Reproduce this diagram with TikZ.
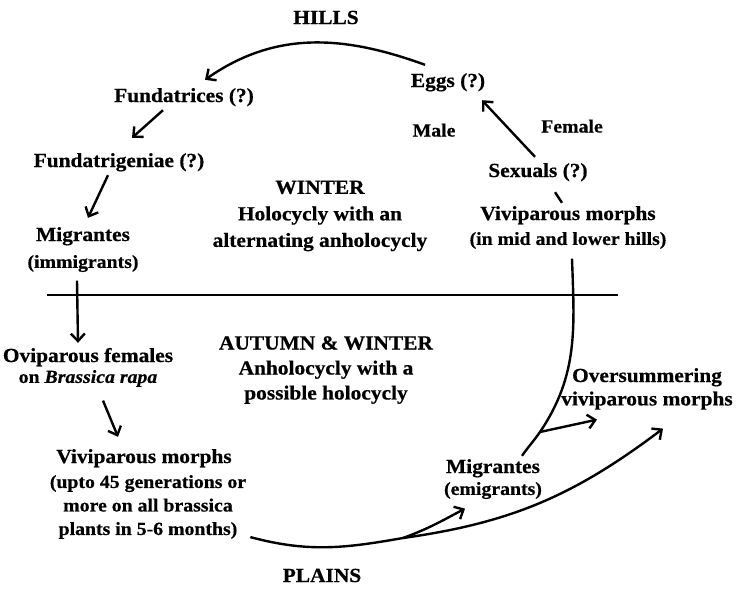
\documentclass[tikz,border=0pt]{standalone}
\usepackage{fontspec}
\setmainfont{Liberation Serif}[FakeStretch=1.07, BoldFeatures={FakeBold=0.6}, BoldItalicFeatures={FakeBold=0.6}]
\usetikzlibrary{positioning,arrows.meta}

\begin{document}
\begin{tikzpicture}[
    x=1pt, y=1pt,
    stagenode/.style={font=\bfseries\fontsize{20}{22}\selectfont, inner sep=1pt, text height=14pt, text depth=4pt},
    notenode/.style={font=\bfseries\fontsize{18.5}{20}\selectfont, inner sep=1pt, text height=13pt, text depth=4pt},
    seasonnode/.style={font=\bfseries\fontsize{20}{26.5}\selectfont, align=center, inner sep=1pt},
    cyclearrow/.style={-{Straight Barb[length=7.5pt,width=14pt]}, line width=2.4pt},
    cycleline/.style={line width=2.4pt}
    ]
        \useasboundingbox (0,0) rectangle (737,-590);

        %Nodes
        \node[stagenode] (hills) at (326,-19) {HILLS};
        \node[stagenode] (plains) at (322,-577) {PLAINS};
        \node[stagenode] (eggs) at (448,-82) {Eggs (?)};
        \node[stagenode] (fundatrices) at (184,-97) {Fundatrices (?)};
        \node[stagenode] (fundatrig) at (119,-162) {Fundatrigeniae (?)};
        \node[stagenode] (migrI) at (83,-236) {Migrantes};
        \node[notenode] (migrIsub) [below=7.5pt of migrI] {(immigrants)};
        \node[notenode] (male) at (434,-132) {Male};
        \node[notenode] (female) at (572,-128) {Female};
        \node[stagenode] (sexuals) at (538,-172) {Sexuals (?)};
        \node[stagenode] (vivH) at (568,-215) {Viviparous morphs};
        \node[notenode] (vivHsub) [below=5.5pt of vivH] {(in mid and lower hills)};
        \node[seasonnode] (winter) at (320,-216)
            {WINTER\\ Holocycly with an\\ alternating anholocycly};
        \node[seasonnode, font=\bfseries\fontsize{20}{25}\selectfont] (autumn) at (326,-370)
            {AUTUMN \& WINTER\\ Anholocycly with a\\ possible holocycly};
        \node[stagenode] (ovi) at (88,-357) {Oviparous females};
        \node[notenode] (ovisub) [below=1.5pt of ovi] {on \textit{Brassica rapa}};
        \node[stagenode] (vivP) at (144,-458) {Viviparous morphs};
        \node[seasonnode, font=\bfseries\fontsize{18.5}{23.5}\selectfont] (vivPsub) at (148,-507)
            {(upto 45 generations or\\ more on all brassica\\ plants in 5-6 months)};
        \node[stagenode] (migrE) at (493,-468) {Migrantes};
        \node[notenode] (migrEsub) [below=2.5pt of migrE] {(emigrants)};
        \node[stagenode] (oversum) at (647,-377) {Oversummering};
        \node[stagenode] (oversumsub) [below=3pt of oversum] {viviparous morphs};

        \coordinate (divL) at (47,-295);
        \coordinate (divR) at (618,-295);
        \coordinate (forkE) at (540,-432);
        \coordinate (forkP) at (403,-538);

        %Lines
        \draw[cycleline] (divL) -- (divR);
        \draw[cyclearrow]
            ([xshift=-23pt,yshift=7pt]eggs.north) to[out=160, in=35] ([xshift=21pt,yshift=7pt]fundatrices.north);
        \draw[cyclearrow]
            ([xshift=-21pt,yshift=-3pt]fundatrices.south) -- ([xshift=13pt,yshift=14pt]fundatrig.north);
        \draw[cyclearrow]
            ([xshift=-11pt,yshift=-3pt]fundatrig.south) -- ([xshift=5pt,yshift=8pt]migrI.north);
        \draw[cyclearrow]
            ([xshift=-6pt,yshift=-7.5pt]migrIsub.south) -- ([xshift=-10pt,yshift=4pt]ovi.north);
        \draw[cyclearrow]
            ([xshift=15pt,yshift=-12.5pt]ovisub.south) -- ([xshift=-26pt,yshift=11pt]vivP.north);
        \draw[cyclearrow]
            ([xshift=-3pt,yshift=5pt]sexuals.north) -- ([xshift=34pt,yshift=-8pt]eggs.south);
        \draw[cycleline]
            ([xshift=17pt,yshift=-10pt]sexuals.south) -- ([xshift=-6pt,yshift=2pt]vivH.north);
        \draw[cycleline]
            ([xshift=29pt,yshift=2pt]migrE.north) to[out=55, in=235] (forkE)
            to[out=56, in=-88] ([xshift=4pt,yshift=-8.5pt]vivHsub.south);
        \draw[cyclearrow]
            (forkE) -- ([xshift=-50pt,yshift=-9pt]oversumsub.south);
        \draw[cycleline]
            ([xshift=3pt,yshift=3pt]vivPsub.south east) to[out=-15, in=190] (forkP);
        \draw[cyclearrow]
            (forkP) to[out=8, in=-143] ([xshift=16pt,yshift=-18pt]oversumsub.south);
        \draw[cyclearrow]
            (forkP) to[out=20, in=-152] ([xshift=-28pt,yshift=-8.5pt]migrEsub.south);
    \end{tikzpicture}
\end{document}
